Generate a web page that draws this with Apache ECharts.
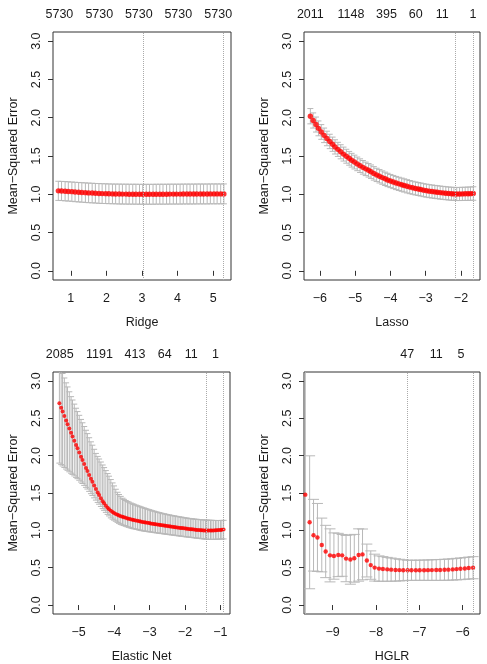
<!DOCTYPE html>
<html>
<head>
<meta charset="utf-8">
<script src="https://cdn.jsdelivr.net/npm/echarts@6/dist/echarts.min.js"></script>
<style>
html, body { margin: 0; padding: 0; background: #fff; }
#chart { width: 487px; height: 664px; }
</style>
</head>
<body>
<div id="chart"></div>
<script>
// ---- Ridge ----
var ridgeX = [0.65,0.74,0.84,0.93,1.03,1.12,1.22,1.31,1.41,1.50,
  1.60,1.69,1.79,1.88,1.98,2.07,2.17,2.26,2.36,2.45,
  2.55,2.64,2.74,2.83,2.93,3.02,3.12,3.21,3.31,3.40,
  3.50,3.59,3.69,3.78,3.88,3.97,4.07,4.16,4.26,4.35,
  4.45,4.54,4.64,4.73,4.83,4.92,5.02,5.11,5.21,5.30]
var ridgeMse = [1.045,1.043,1.040,1.037,1.034,1.030,1.027,1.024,1.021,1.018,
  1.016,1.013,1.011,1.009,1.008,1.006,1.005,1.004,1.003,1.002,
  1.002,1.001,1.001,1.001,1.000,1.000,1.000,1.000,1.000,1.001,
  1.001,1.001,1.001,1.002,1.002,1.002,1.002,1.003,1.003,1.003,
  1.003,1.004,1.004,1.004,1.004,1.005,1.005,1.005,1.005,1.005]
var ridgeSe = [0.125,0.125,0.126,0.126,0.126,0.127,0.127,0.127,0.128,0.128,
  0.128,0.128,0.129,0.129,0.129,0.129,0.129,0.129,0.130,0.130,
  0.130,0.130,0.130,0.130,0.130,0.130,0.130,0.130,0.130,0.130,
  0.130,0.130,0.130,0.130,0.130,0.130,0.130,0.130,0.130,0.130,
  0.130,0.130,0.130,0.130,0.130,0.130,0.130,0.130,0.130,0.130]
var ridgeTicks = [1, 2, 3, 4, 5]
var ridgeTopAt = [0.68, 1.80, 2.91, 4.02, 5.14]
var ridgeTopLabels = ['5730', '5730', '5730', '5730', '5730']
var ridgeLines = [3.04, 5.29]

// ---- Lasso ----
var lassoX = [-6.27,-6.19,-6.11,-6.04,-5.96,-5.88,-5.80,-5.72,-5.64,-5.57,
  -5.49,-5.41,-5.33,-5.25,-5.17,-5.10,-5.02,-4.94,-4.86,-4.78,
  -4.70,-4.62,-4.55,-4.47,-4.39,-4.31,-4.23,-4.15,-4.08,-4.00,
  -3.92,-3.84,-3.76,-3.68,-3.61,-3.53,-3.45,-3.37,-3.29,-3.21,
  -3.14,-3.06,-2.98,-2.90,-2.82,-2.74,-2.67,-2.59,-2.51,-2.43,
  -2.35,-2.27,-2.20,-2.12,-2.04,-1.96,-1.88,-1.80,-1.73,-1.65]
var lassoMse = [2.020,1.964,1.911,1.861,1.814,1.770,1.729,1.690,1.654,1.619,
  1.587,1.555,1.525,1.497,1.470,1.445,1.421,1.397,1.374,1.352,
  1.332,1.313,1.295,1.273,1.253,1.235,1.218,1.202,1.187,1.173,
  1.160,1.147,1.136,1.125,1.115,1.104,1.094,1.085,1.076,1.069,
  1.062,1.054,1.047,1.041,1.036,1.031,1.027,1.022,1.018,1.014,
  1.010,1.007,1.005,1.003,1.004,1.005,1.006,1.007,1.008,1.010]
var lassoSe = [0.100,0.099,0.098,0.097,0.096,0.095,0.095,0.094,0.093,0.093,
  0.092,0.092,0.091,0.091,0.090,0.090,0.090,0.089,0.089,0.089,
  0.088,0.088,0.088,0.088,0.087,0.087,0.087,0.087,0.087,0.086,
  0.086,0.086,0.086,0.086,0.086,0.086,0.086,0.085,0.085,0.085,
  0.085,0.085,0.085,0.085,0.085,0.085,0.085,0.085,0.085,0.085,
  0.085,0.085,0.085,0.085,0.086,0.086,0.086,0.087,0.087,0.088]
var lassoTicks = [-6, -5, -4, -3, -2]
var lassoTopAt = [-6.27, -5.12, -4.11, -3.28, -2.53, -1.66]
var lassoTopLabels = ['2011', '1148', '395', '60', '11', '1']
var lassoLines = [-2.15, -1.64]

// ---- Elastic Net ----
var enX = [-5.54,-5.49,-5.45,-5.40,-5.35,-5.31,-5.26,-5.21,-5.17,-5.12,
  -5.07,-5.03,-4.98,-4.93,-4.89,-4.84,-4.79,-4.75,-4.70,-4.65,
  -4.61,-4.56,-4.51,-4.46,-4.42,-4.37,-4.32,-4.28,-4.23,-4.18,
  -4.14,-4.09,-4.04,-4.00,-3.95,-3.90,-3.86,-3.81,-3.76,-3.72,
  -3.67,-3.62,-3.58,-3.53,-3.48,-3.44,-3.39,-3.34,-3.29,-3.25,
  -3.20,-3.15,-3.11,-3.06,-3.01,-2.97,-2.92,-2.87,-2.83,-2.78,
  -2.73,-2.69,-2.64,-2.59,-2.55,-2.50,-2.45,-2.41,-2.36,-2.31,
  -2.27,-2.22,-2.17,-2.12,-2.08,-2.03,-1.98,-1.94,-1.89,-1.84,
  -1.80,-1.75,-1.70,-1.66,-1.61,-1.56,-1.52,-1.47,-1.42,-1.38,
  -1.33,-1.28,-1.24,-1.19,-1.14,-1.10,-1.05,-1.00,-0.96,-0.91]
var enMse = [2.700,2.640,2.590,2.530,2.470,2.420,2.362,2.305,2.258,2.200,
  2.143,2.098,2.042,1.987,1.943,1.889,1.836,1.794,1.742,1.691,
  1.651,1.602,1.554,1.508,1.472,1.430,1.391,1.362,1.330,1.302,
  1.282,1.262,1.245,1.233,1.220,1.208,1.199,1.190,1.181,1.174,
  1.167,1.160,1.154,1.148,1.142,1.137,1.132,1.127,1.122,1.118,
  1.113,1.109,1.105,1.101,1.097,1.093,1.089,1.085,1.082,1.078,
  1.074,1.071,1.067,1.064,1.061,1.058,1.054,1.051,1.048,1.045,
  1.042,1.039,1.036,1.033,1.030,1.027,1.024,1.021,1.018,1.015,
  1.013,1.010,1.008,1.006,1.004,1.002,1.001,0.999,0.998,0.997,
  0.997,0.998,0.998,0.999,1.000,1.002,1.004,1.006,1.008,1.010]
var enUpper = [3.220,3.155,3.100,3.040,2.975,2.920,2.855,2.790,2.745,2.690,
  2.635,2.590,2.540,2.485,2.440,2.390,2.340,2.295,2.240,2.185,
  2.140,2.085,2.030,1.990,1.955,1.915,1.875,1.840,1.800,1.760,
  1.725,1.680,1.635,1.595,1.550,1.510,1.480,1.455,1.430,1.415,
  1.400,1.387,1.377,1.366,1.356,1.348,1.339,1.330,1.322,1.315,
  1.307,1.299,1.292,1.284,1.277,1.270,1.263,1.256,1.250,1.244,
  1.238,1.233,1.227,1.222,1.217,1.212,1.207,1.203,1.198,1.194,
  1.190,1.186,1.182,1.178,1.174,1.170,1.166,1.163,1.160,1.157,
  1.154,1.151,1.149,1.147,1.145,1.143,1.141,1.139,1.138,1.137,
  1.136,1.135,1.134,1.133,1.132,1.132,1.132,1.132,1.133,1.134]
var enLower = [1.900,1.880,1.862,1.842,1.821,1.804,1.784,1.765,1.749,1.729,
  1.709,1.692,1.671,1.647,1.627,1.602,1.576,1.553,1.522,1.491,
  1.466,1.435,1.405,1.374,1.350,1.320,1.291,1.268,1.241,1.214,
  1.193,1.167,1.150,1.137,1.122,1.107,1.094,1.080,1.071,1.064,
  1.055,1.047,1.040,1.032,1.025,1.021,1.016,1.011,1.005,1.000,
  0.995,0.991,0.988,0.984,0.981,0.978,0.975,0.971,0.968,0.965,
  0.962,0.959,0.956,0.953,0.950,0.947,0.944,0.941,0.938,0.935,
  0.932,0.929,0.926,0.923,0.920,0.917,0.914,0.912,0.909,0.906,
  0.904,0.901,0.898,0.896,0.893,0.890,0.888,0.885,0.882,0.880,
  0.879,0.879,0.879,0.879,0.880,0.881,0.882,0.883,0.884,0.885]
var enTicks = [-5, -4, -3, -2, -1]
var enTopAt = [-5.53, -4.41, -3.41, -2.57, -1.82, -1.14]
var enTopLabels = ['2085', '1191', '413', '64', '11', '1']
var enLines = [-1.39, -0.93]

// ---- HGLR ----
var hglrX = [-9.63,-9.53,-9.44,-9.35,-9.25,-9.16,-9.06,-8.97,-8.87,-8.78,
  -8.69,-8.59,-8.50,-8.40,-8.31,-8.21,-8.12,-8.03,-7.93,-7.84,
  -7.74,-7.65,-7.55,-7.46,-7.37,-7.27,-7.18,-7.08,-6.99,-6.89,
  -6.80,-6.71,-6.61,-6.52,-6.42,-6.33,-6.23,-6.14,-6.05,-5.95,
  -5.86,-5.76]
var hglrMse = [1.478,1.108,0.935,0.905,0.804,0.717,0.665,0.656,0.670,0.665,
  0.622,0.609,0.626,0.670,0.678,0.596,0.535,0.501,0.488,0.483,
  0.478,0.474,0.470,0.468,0.466,0.465,0.465,0.465,0.466,0.466,
  0.467,0.468,0.469,0.470,0.472,0.474,0.477,0.481,0.485,0.490,
  0.495,0.500]
var hglrSe = [1.90,0.89,0.48,0.455,0.36,0.35,0.355,0.31,0.29,0.28,
  0.31,0.33,0.32,0.35,0.34,0.22,0.19,0.18,0.17,0.165,
  0.16,0.155,0.15,0.145,0.14,0.135,0.135,0.135,0.135,0.136,
  0.137,0.138,0.139,0.140,0.141,0.142,0.143,0.144,0.145,0.146,
  0.147,0.148]
var hglrTicks = [-9, -8, -7, -6]
var hglrTopAt = [-7.28, -6.61, -6.04]
var hglrTopLabels = ['47', '11', '5']
var hglrLines = [-7.27, -5.75]

var yTicks = [0, 0.5, 1, 1.5, 2, 2.5, 3]

var font = 'Liberation Sans, Arial, Helvetica, sans-serif'
var textColor = '#1a1a1a'
var barColor = '#b8b8b8'
var fs = 12.5

function minusFmt (v) {
  return String(v).replace('-', '\u2212')
}

// top axis labels sit at arbitrary positions, pick the nearest one
function topFmt (at, labels) {
  return function (v) {
    var best = 0
    for (var i = 1; i < at.length; i++) {
      if (Math.abs(at[i] - v) < Math.abs(at[best] - v)) best = i
    }
    return labels[best]
  }
}

function barRenderer (cap) {
  return function (params, api) {
    var x = api.value(0)
    var top = api.coord([x, api.value(2)])
    var bot = api.coord([x, api.value(1)])
    var st = { stroke: barColor, lineWidth: 1 }
    return {
      type: 'group',
      children: [
        { type: 'line', shape: { x1: top[0], y1: top[1], x2: bot[0], y2: bot[1] }, style: st },
        { type: 'line', shape: { x1: top[0] - cap, y1: top[1], x2: top[0] + cap, y2: top[1] }, style: st },
        { type: 'line', shape: { x1: bot[0] - cap, y1: bot[1], x2: bot[0] + cap, y2: bot[1] }, style: st }
      ]
    }
  }
}

var panels = [
  { grid: { left: 53, top: 32, width: 178, height: 248 }, min: 0.50, max: 5.50, name: 'Ridge',
    x: ridgeX, mse: ridgeMse, lo: ridgeMse.map(function (m, i) { return m - ridgeSe[i] }),
    hi: ridgeMse.map(function (m, i) { return m + ridgeSe[i] }),
    ticks: ridgeTicks, topAt: ridgeTopAt, topLabels: ridgeTopLabels, lines: ridgeLines, cap: 3, dot: 5.4 },
  { grid: { left: 304, top: 32, width: 176, height: 248 }, min: -6.45, max: -1.46, name: 'Lasso',
    x: lassoX, mse: lassoMse, lo: lassoMse.map(function (m, i) { return m - lassoSe[i] }),
    hi: lassoMse.map(function (m, i) { return m + lassoSe[i] }),
    ticks: lassoTicks, topAt: lassoTopAt, topLabels: lassoTopLabels, lines: lassoLines, cap: 3, dot: 5.4 },
  { grid: { left: 53, top: 372, width: 177, height: 249 }, min: -5.72, max: -0.73, name: 'Elastic Net',
    x: enX, mse: enMse, lo: enLower, hi: enUpper,
    ticks: enTicks, topAt: enTopAt, topLabels: enTopLabels, lines: enLines, cap: 3, dot: 4 },
  { grid: { left: 304, top: 372, width: 176, height: 249 }, min: -9.66, max: -5.60, name: 'HGLR',
    x: hglrX, mse: hglrMse, lo: hglrMse.map(function (m, i) { return m - hglrSe[i] }),
    hi: hglrMse.map(function (m, i) { return m + hglrSe[i] }),
    ticks: hglrTicks, topAt: hglrTopAt, topLabels: hglrTopLabels, lines: hglrLines, cap: 5.5, dot: 4.4 }
]

var option = { animation: false, backgroundColor: '#fff', grid: [], xAxis: [], yAxis: [], series: [] }
var txt = { fontFamily: font, fontSize: fs, color: textColor }

panels.forEach(function (p, i) {
  option.grid.push(Object.assign({ show: true, borderColor: '#333', borderWidth: 1, backgroundColor: 'transparent' }, p.grid))
  // bottom axis
  option.xAxis.push({
    gridIndex: i, type: 'value', min: p.min, max: p.max, position: 'bottom',
    axisLine: { show: false }, splitLine: { show: false },
    axisTick: { show: true, length: 5, customValues: p.ticks, lineStyle: { color: '#333' } },
    axisLabel: Object.assign({ customValues: p.ticks, margin: 12, formatter: minusFmt }, txt),
    name: p.name, nameLocation: 'middle', nameGap: 36, nameTextStyle: txt
  })
  option.yAxis.push({
    gridIndex: i, type: 'value', min: -0.12, max: 3.12,
    axisLine: { show: false }, splitLine: { show: false },
    axisTick: { show: true, length: 5, customValues: yTicks, lineStyle: { color: '#333' } },
    axisLabel: Object.assign({ customValues: yTicks, rotate: 90, margin: 10, formatter: function (v) { return v.toFixed(1) } }, txt),
    name: 'Mean\u2212Squared Error', nameLocation: 'middle', nameRotate: 90, nameGap: 33, nameTextStyle: txt
  })
})
// top axes with the number of non-zero coefficients
panels.forEach(function (p, i) {
  option.xAxis.push({
    gridIndex: i, type: 'value', min: p.min, max: p.max, position: 'top',
    axisLine: { show: false }, axisTick: { show: false }, splitLine: { show: false },
    axisLabel: Object.assign({ customValues: p.topAt, margin: 11, formatter: topFmt(p.topAt, p.topLabels) }, txt)
  })
})

panels.forEach(function (p, i) {
  option.series.push({
    type: 'custom', xAxisIndex: i, yAxisIndex: i, clip: true, silent: true,
    renderItem: barRenderer(p.cap),
    encode: { x: 0, y: [1, 2] },
    data: p.x.map(function (x, k) { return [x, p.lo[k], p.hi[k]] })
  })
  option.series.push({
    type: 'scatter', xAxisIndex: i, yAxisIndex: i, silent: true,
    symbol: 'circle', symbolSize: p.dot,
    itemStyle: { color: '#ff0000' },
    data: p.x.map(function (x, k) { return [x, p.mse[k]] }),
    markLine: {
      silent: true, symbol: ['none', 'none'], label: { show: false },
      lineStyle: { type: 'dotted', color: '#aaa', width: 1 },
      data: p.lines.map(function (v) { return { xAxis: v } })
    },
    z: 3
  })
})

var chart = echarts.init(document.getElementById('chart'))
chart.setOption(option)
</script>
</body>
</html>
